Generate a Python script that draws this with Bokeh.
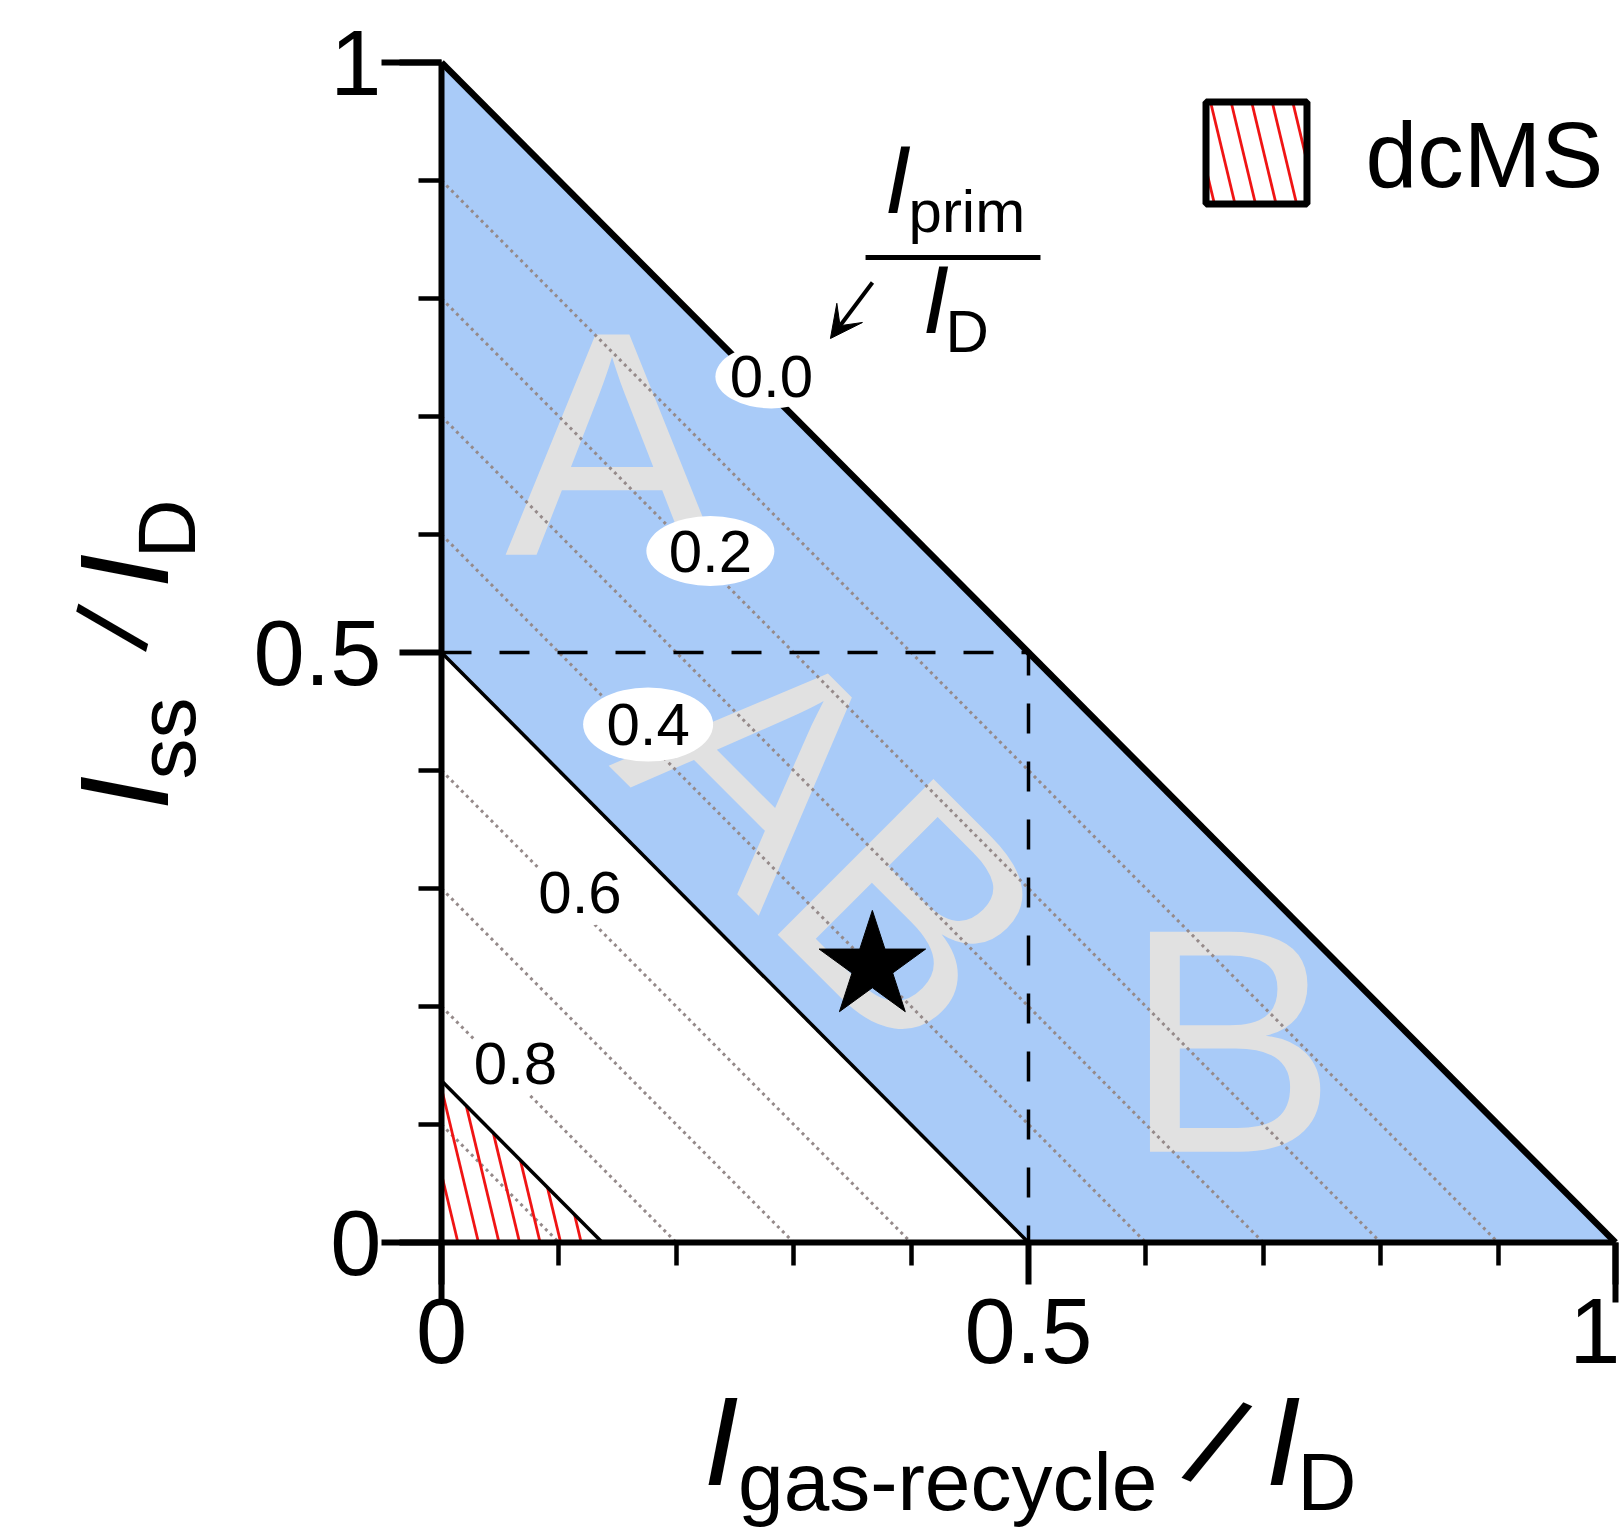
import numpy as np
from bokeh.plotting import figure
from bokeh.models import Range1d, FixedTicker, LinearAxis, Label, Arrow, VeeHead
from bokeh.core.properties import value
from bokeh.embed import file_html
from bokeh.resources import INLINE

FONT = "Liberation Sans"

# ---- values, as fractions of the discharge current I_D ----
prim_zero_sum = 1.0      # I_ss + I_gas-recycle where I_prim / I_D = 0
band_lower_sum = 0.5     # lower edge of the shaded operating band
dcms_sum = 0.137         # extent of the dcMS corner
regime_split = 0.5       # dashed divider between the regimes
iso_sums = [0.1, 0.2, 0.3, 0.4, 0.5, 0.6, 0.7, 0.8, 0.9]   # dotted iso-lines
iso_values = [0.0, 0.2, 0.4, 0.6, 0.8]                     # labelled I_prim / I_D
star_x = [0.367]
star_y = [0.234]
regime_text = ["A", "AB", "B"]
major_ticks = [0, 0.5, 1]
major_tick_text = ["0", "0.5", "1"]
minor_ticks = [0.1, 0.2, 0.3, 0.4, 0.6, 0.7, 0.8, 0.9]
long_ticks = [0, 1]

# ---- layout ----
W, H = 1620, 1530
PX_X, PX_Y = 1174.0, 1180.0          # pixels per unit on each axis
ORIGIN_X, ORIGIN_Y = 441.0, 1242.0   # pixel position of (0, 0)

iso_label_x = [0.281, 0.229, 0.176, 0.118, 0.063]
iso_label_lift = 0.015
bubble_w = [112, 128, 130, 124, 120]
bubble_h = [64, 70, 74, 68, 66]
regime_x = [0.145, 0.270, 0.672]       # baseline centres of the letters
regime_y = [0.582, 0.276, 0.076]
regime_angle = [0.0, -np.pi / 4, 0.0]
REGIME_SIZE = 320
MID = 0.35                             # em offset from baseline to text middle
XTITLE_Y = -0.2060                     # baseline of the large glyphs of the x title

BLUE = "#a9cbf8"
HATCH_RED = "#f01414"
HATCH_GAP = 0.0175
HATCH_K = 0.241          # horizontal run per unit drop of a hatch stroke


def hatch_triangle(limit, phase):
    xs, ys = [], []
    for c in np.arange(phase, limit, HATCH_GAP):
        top = min(c / HATCH_K, (limit - c) / (1 - HATCH_K))
        xs.append([c - HATCH_K * top, c])
        ys.append([top, 0.0])
    return xs, ys


def hatch_rect(x0, x1, y0, y1, phase):
    xs, ys = [], []
    c_lo, c_hi = x0 + HATCH_K * y0, x1 + HATCH_K * y1
    start = phase + np.floor((c_lo - phase) / HATCH_GAP) * HATCH_GAP
    for c in np.arange(start, c_hi + HATCH_GAP, HATCH_GAP):
        lo = max(y0, (c - x1) / HATCH_K)
        hi = min(y1, (c - x0) / HATCH_K)
        if hi > lo:
            xs.append([c - HATCH_K * hi, c - HATCH_K * lo])
            ys.append([hi, lo])
    return xs, ys


def mid_shift(size, angle):
    """Data offset from a text baseline to its middle line."""
    d = MID * size
    return -np.sin(angle) * d / PX_X, np.cos(angle) * d / PX_Y


p = figure(width=W, height=H,
           x_range=Range1d(-ORIGIN_X / PX_X, (W - ORIGIN_X) / PX_X),
           y_range=Range1d(-(H - ORIGIN_Y) / PX_Y, ORIGIN_Y / PX_Y),
           output_backend="svg", toolbar_location=None,
           min_border_left=0, min_border_right=0, min_border_top=0, min_border_bottom=0)
p.grid.visible = False
p.outline_line_color = None
p.background_fill_color = "white"
p.border_fill_color = "white"

for ax in (p.xaxis[0], p.yaxis[0]):
    ax.fixed_location = 0
    ax.bounds = (0, 1)
    ax.ticker = FixedTicker(ticks=major_ticks, minor_ticks=minor_ticks)
    ax.major_label_overrides = {t: s for t, s in zip(major_ticks, major_tick_text)}
    ax.axis_line_width = 6
    ax.axis_line_color = "black"
    ax.major_tick_line_width = 6
    ax.minor_tick_line_width = 4.5
    ax.major_tick_in = 0
    ax.major_tick_out = 42
    ax.minor_tick_in = 0
    ax.minor_tick_out = 23
    ax.major_label_text_font = FONT
    ax.major_label_text_font_size = "92px"
    ax.major_label_text_color = "black"
p.xaxis[0].major_label_standoff = 14
p.yaxis[0].major_label_standoff = 18

# longer ticks where the two axes start and end
for side in ("below", "left"):
    p.add_layout(LinearAxis(fixed_location=0, bounds=(0, 1), ticker=FixedTicker(ticks=long_ticks),
                            major_label_overrides={t: "" for t in long_ticks},
                            axis_line_color=None, major_tick_in=0, major_tick_out=60,
                            major_tick_line_width=6, minor_tick_line_color=None), side)

# shaded band between I_prim/I_D = 0 and 0.5
p.patch(x=[0, 0, prim_zero_sum, band_lower_sum], y=[band_lower_sum, prim_zero_sum, 0, 0],
        fill_color=BLUE, line_color=None)

# regime letters
shifts = [mid_shift(REGIME_SIZE, a) for a in regime_angle]
p.text(x=[x + s[0] for x, s in zip(regime_x, shifts)],
       y=[y + s[1] for y, s in zip(regime_y, shifts)],
       text=regime_text, angle=regime_angle,
       text_font=value(FONT), text_font_size=f"{REGIME_SIZE}px", text_color="#e1e1e1",
       text_align="center", text_baseline="middle")

# dotted iso-lines of constant I_prim / I_D
p.multi_line(xs=[[0, s] for s in iso_sums], ys=[[s, 0] for s in iso_sums],
             line_color="#958a8a", line_width=3, line_dash="3 4")

# dcMS corner
hx, hy = hatch_triangle(dcms_sum, 0.014)
p.multi_line(xs=hx, ys=hy, line_color=HATCH_RED, line_width=2.8)
p.line([0, dcms_sum], [dcms_sum, 0], line_color="black", line_width=3.5)

# band edges and regime divider
p.line([0, band_lower_sum], [band_lower_sum, 0], line_color="black", line_width=3.5)
p.line([0, prim_zero_sum], [prim_zero_sum, 0], line_color="black", line_width=6.5)
p.line([0, regime_split, regime_split], [regime_split, regime_split, 0],
       line_color="black", line_width=3.5, line_dash="30 28")

# iso-line labels
iso_label_y = [1 - v - x + iso_label_lift for v, x in zip(iso_values, iso_label_x)]
p.ellipse(x=iso_label_x, y=iso_label_y, width=bubble_w, height=bubble_h,
          width_units="screen", height_units="screen", fill_color="white", line_color=None)
p.text(x=iso_label_x, y=iso_label_y, text=[f"{v:.1f}" for v in iso_values],
       text_font=value(FONT), text_font_size="60px", text_color="black",
       text_align="center", text_baseline="middle")

# operating point
p.scatter(star_x, star_y, marker="star", size=112, fill_color="black", line_color="black")

# legend: hatched swatch + name
lx0, lx1, ly0, ly1 = 0.6512, 0.7372, 0.8801, 0.9665
gx, gy = hatch_rect(lx0, lx1, ly0, ly1, 0.888)
p.multi_line(xs=gx, ys=gy, line_color=HATCH_RED, line_width=2.8)
p.quad(left=[lx0], right=[lx1], bottom=[ly0], top=[ly1], fill_color=None,
       line_color="black", line_width=7)


def put(text, x, y, size, italic=False, angle=0.0):
    """Place text whose baseline starts at (x, y)."""
    dx, dy = mid_shift(size, angle)
    p.add_layout(Label(x=x + dx, y=y + dy, text=text, text_font=FONT, text_font_size=f"{size}px",
                       text_font_style="italic" if italic else "normal", text_color="black",
                       angle=angle, text_align="left", text_baseline="middle"))


def put_centered(text, x, y, size, angle):
    p.add_layout(Label(x=x, y=y, text=text, text_font=FONT, text_font_size=f"{size}px",
                       text_color="black", angle=angle, text_align="center", text_baseline="middle"))


put("dcMS", 0.787, 0.894, 93)

# I_prim / I_D key with arrow to the 0.0 iso-line
put("I", 0.3773, 0.872, 96, italic=True)
put("prim", 0.3978, 0.856, 60)
p.line([0.3612, 0.5102], [0.8347, 0.8347], line_color="black", line_width=5)
put("I", 0.4097, 0.7703, 96, italic=True)
put("D", 0.4293, 0.7542, 60)
p.add_layout(Arrow(end=VeeHead(size=32, fill_color="black", line_color="black"),
                   x_start=0.3671, y_start=0.8136, x_end=0.3313, y_end=0.7661,
                   line_color="black", line_width=4))

# x-axis title: I_gas-recycle / I_D
sub_drop = 0.0205
put("I", 0.2232, XTITLE_Y, 127, italic=True)
put("gas-recycle", 0.2526, XTITLE_Y - sub_drop, 82)
put_centered("/", 0.6601, XTITLE_Y + 0.036, 128, -0.42)
put("I", 0.7019, XTITLE_Y, 127, italic=True)
put("D", 0.7290, XTITLE_Y - sub_drop, 82)

# y-axis title: I_ss / I_D
half_pi = np.pi / 2
put("I", -0.2325, 0.3661, 126, italic=True, angle=half_pi)
put("ss", -0.2095, 0.3924, 82, angle=half_pi)
put_centered("/", -0.2798, 0.5208, 106, half_pi - 0.26)
put("I", -0.2325, 0.5542, 126, italic=True, angle=half_pi)
put("D", -0.2095, 0.5797, 82, angle=half_pi)

open("out.html", "w").write(file_html(p, INLINE))
